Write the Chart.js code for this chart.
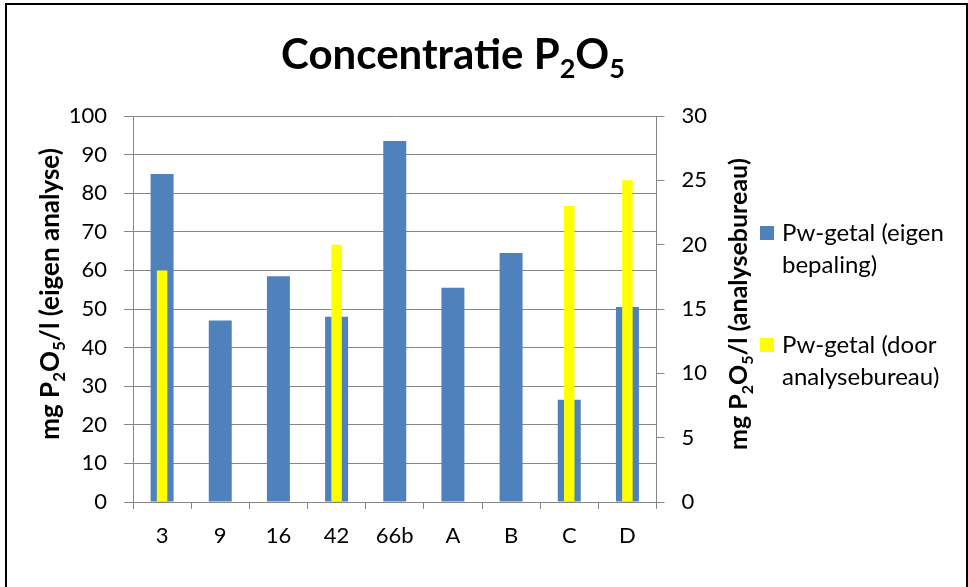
<!DOCTYPE html>
<html>
<head>
<meta charset="utf-8">
<script src="https://cdn.jsdelivr.net/npm/chart.js@4.4.0/dist/chart.umd.min.js"></script>
<style>
  body { margin: 0; background: #fff; }
  #wrap { position: relative; width: 968px; height: 587px; overflow: hidden; }
  #frame { position: absolute; left: 5px; top: 3px; width: 959px; height: 640px; border: 2px solid #000; pointer-events: none; }
</style>
</head>
<body>
<div id="wrap">
  <canvas id="concChart" width="968" height="587"></canvas>
  <div id="frame"></div>
</div>
<script>
// categories and values
const monsters = ['3', '9', '16', '42', '66b', 'A', 'B', 'C', 'D'];
const eigenAnalyse = [85, 47, 58.5, 48, 93.5, 55.5, 64.5, 26.5, 50.5];
const analysebureau = [18, null, null, 20, null, null, null, 23, 25];
const legendLines = [['Pw-getal (eigen', 'bepaling)'], ['Pw-getal (door', 'analysebureau)']];

const axisGray = '#868686';
const blue = '#4F81BD';
const yellow = '#FFFF00';

Chart.defaults.font.family = 'Lato';
Chart.defaults.color = '#000';

// draw text made of parts, some of them subscript
function drawRich(c, parts, x, y, size, bold) {
    const w = bold ? 'bold ' : '';
    parts.forEach(p => {
        if (p.sub) {
            c.font = w + Math.round(size * 0.65) + 'px Lato';
            c.fillText(p.t, x, y + size * 0.22);
        } else {
            c.font = w + size + 'px Lato';
            c.fillText(p.t, x, y);
        }
        x += c.measureText(p.t).width;
    });
    return x;
}
function richWidth(c, parts, size, bold) {
    const w = bold ? 'bold ' : '';
    let total = 0;
    parts.forEach(p => {
        c.font = w + (p.sub ? Math.round(size * 0.65) : size) + 'px Lato';
        total += c.measureText(p.t).width;
    });
    return total;
}

const unit = (tail) => [{t: 'mg P'}, {t: '2', sub: true}, {t: 'O'}, {t: '5', sub: true}, {t: tail}];

const extrasPlugin = {
    id: 'extras',
    afterDraw(chart) {
        const c = chart.ctx;
        c.save();
        c.fillStyle = '#000';
        c.textBaseline = 'alphabetic';
        c.textAlign = 'left';

        // title
        const titleParts = [{t: 'Concentratie P'}, {t: '2', sub: true}, {t: 'O'}, {t: '5', sub: true}];
        const tw = richWidth(c, titleParts, 42, true);
        drawRich(c, titleParts, 453 - tw / 2, 69, 42, true);

        // axis titles (rotated, reading bottom to top)
        const axisTitles = [
            [unit('/l (eigen analyse)'), 59, 294, 26],
            [unit('/l (analysebureau)'), 747, 304, 25]
        ];
        axisTitles.forEach(([parts, cx, cy, size]) => {
            const w = richWidth(c, parts, size, true);
            c.save();
            c.translate(cx, cy);
            c.rotate(-Math.PI / 2);
            drawRich(c, parts, -w / 2, 0, size, true);
            c.restore();
        });

        // legend
        const colors = chart.data.datasets.map(d => d.backgroundColor);
        const tops = [233, 345];
        legendLines.forEach((lines, i) => {
            c.fillStyle = colors[i];
            c.fillRect(760, tops[i] - 7, 14, 14);
            c.fillStyle = '#000';
            c.font = '24px Lato';
            c.textBaseline = 'middle';
            lines.forEach((ln, j) => c.fillText(ln, 782, tops[i] + j * 32));
        });
        c.restore();
    }
};

new Chart(document.getElementById('concChart'), {
    type: 'bar',
    data: {
        labels: monsters,
        datasets: [{
            label: 'Pw-getal (eigen bepaling)',
            data: eigenAnalyse,
            backgroundColor: blue,
            yAxisID: 'y',
            order: 2,
            grouped: false,
            categoryPercentage: 1,
            barPercentage: 0.395
        }, {
            label: 'Pw-getal (door analysebureau)',
            data: analysebureau,
            backgroundColor: yellow,
            yAxisID: 'y1',
            order: 1,
            grouped: false,
            categoryPercentage: 1,
            barPercentage: 0.18
        }]
    },
    options: {
        responsive: false,
        animation: false,
        devicePixelRatio: 1,
        layout: { padding: { top: 116, left: 0, right: 0, bottom: 0 } },
        plugins: {
            legend: { display: false },
            title: { display: false },
            tooltip: { enabled: false }
        },
        scales: {
            x: {
                afterFit: s => { s.height = 85; },
                grid: { drawOnChartArea: false, color: axisGray, tickLength: 7, offset: true },
                border: { color: axisGray },
                ticks: { font: { size: 22 }, padding: 14, maxRotation: 0 }
            },
            y: {
                position: 'left',
                min: 0, max: 100,
                afterFit: s => { s.width = 133; },
                grid: { color: axisGray, tickLength: 9 },
                border: { color: axisGray },
                ticks: { stepSize: 10, font: { size: 22 }, padding: 17 }
            },
            y1: {
                position: 'right',
                min: 0, max: 30,
                afterFit: s => { s.width = 311.5; },
                grid: { drawOnChartArea: false, color: axisGray, tickLength: 8 },
                border: { color: axisGray },
                ticks: { stepSize: 5, font: { size: 22 }, padding: 17 }
            }
        }
    },
    plugins: [extrasPlugin]
});
</script>
</body>
</html>
